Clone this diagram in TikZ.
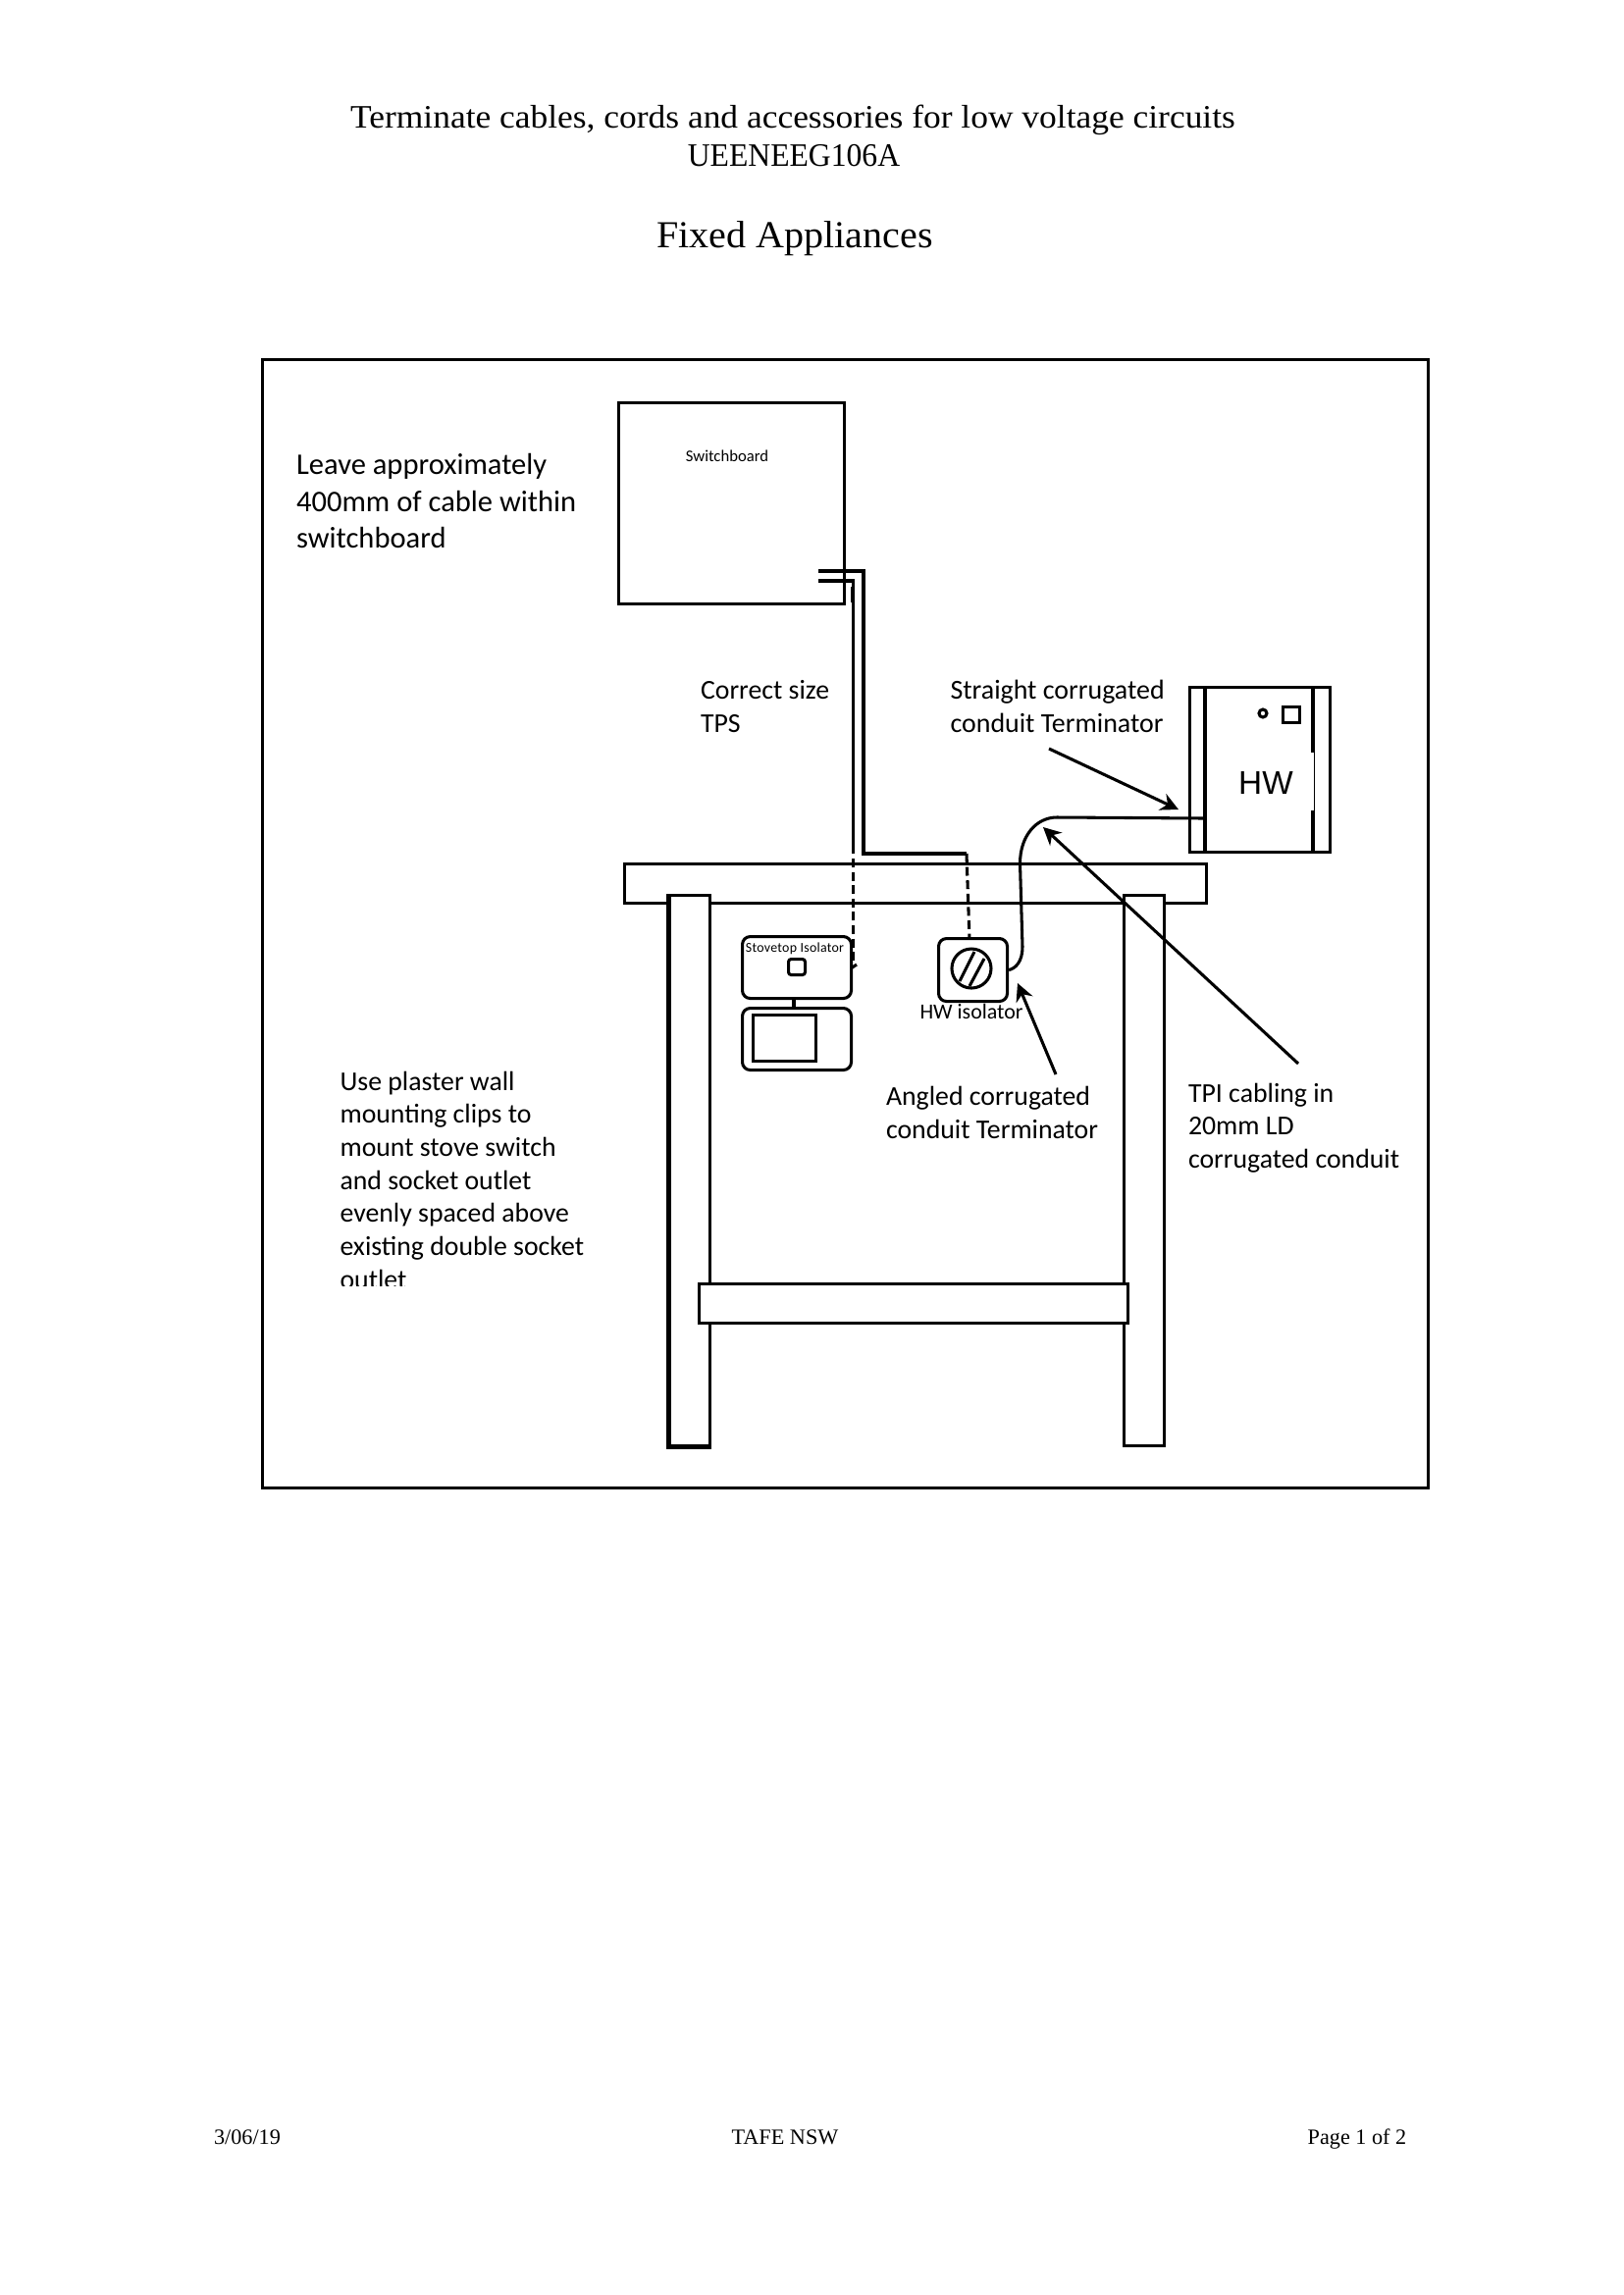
\documentclass[tikz,border=0pt]{standalone}
\usepackage{fontspec}
\setmainfont{Carlito}
\newfontfamily\serifx{Liberation Serif}
\newfontfamily\serifa[FakeStretch=1.063]{Liberation Serif}
\newfontfamily\serifb[FakeStretch=0.95]{Liberation Serif}
\newfontfamily\serifc[FakeStretch=1.03]{Liberation Serif}
\newfontfamily\arialx{Liberation Sans}
\usetikzlibrary{arrows.meta}
\def\px{0.36pt}
\tikzset{
  x=0.36pt,y=-0.36pt,
  ln/.style={line width=1.1pt,draw=black},
  thick line/.style={line width=1.2pt,draw=black},
  boxshape/.style 2 args={ln,fill=white,rectangle,inner sep=0pt,minimum width=#1*\px,minimum height=#2*\px},
  roundbox/.style 2 args={boxshape={#1}{#2},rounded corners=2.9pt},
  lbl/.style={inner sep=0pt,anchor=base west,align=left,text=black},
  midlbl/.style={inner sep=0pt,anchor=base,text=black},
  body/.style={lbl,font=\fontsize{10}{12.1}\selectfont},
  bigbody/.style={lbl,font=\fontsize{11}{13.5}\selectfont},
  foot/.style={midlbl,font=\fontsize{8}{10}\serifx},
  pointer/.style={ln,-{Stealth[length=6.5pt,width=6.5pt]}},
  dashcable/.style={ln,dash pattern=on 3.2pt off 1.7pt},
}
\begin{document}
\begin{tikzpicture}
\useasboundingbox (0,0) rectangle (1654,2339);
\fill[white] (0,0) rectangle (1654,2339);

% headings
\node[midlbl,font=\fontsize{12}{14}\serifa] (t1) at (808,130) {Terminate cables, cords and accessories for low voltage circuits};
\node[midlbl,font=\fontsize{12}{14}\serifb] (t2) at (809,169.5) {UEENEEG106A};
\node[midlbl,font=\fontsize{14}{16}\serifc] (t3) at (810,252) {Fixed Appliances};

% frame
\node[boxshape={1188}{1150},thick line,anchor=north west] (frame) at (266,365) {};

% switchboard
\node[boxshape={230.5}{205},anchor=north west] (sb) at (628.5,409) {};
\node[midlbl,font=\fontsize{6}{7}\selectfont] (sbl) at (741,470) {Switchboard};

% table
\node[boxshape={593}{40},anchor=north west] (top) at (634.5,879) {};
\node[boxshape={41}{561},anchor=north west] (legL) at (681,911) {};
\draw[line width=1.2pt] (legL.north west) -- (legL.south west) -- (legL.south east);
\node[boxshape={41}{561},anchor=north west] (legR) at (1143.5,911) {};
\node[boxshape={437}{40},anchor=north west] (rail) at (711,1307) {};

% TPS cables
\coordinate (c1s) at (834,582);
\coordinate (c1c) at (880,582);
\coordinate (c1d) at (880,870);
\coordinate (c1e) at (985,870);
\coordinate (c2s) at (834,592);
\coordinate (c2c) at (869.5,592);
\coordinate (c2d) at (869.5,870);
\coordinate (c2e) at (869.5,875);
\coordinate (c2f) at (869.5,983);
\coordinate (c2g) at (867,987);
\coordinate (c2h) at (873,983);
\coordinate (c1f) at (988,957);
\draw[ln] (c1s) -- (c1c) -- (c1d) -- (c1e);
\draw[ln] (c2s) -- (c2c) -- (c2d);
\draw[ln] (868.5,598) -- (868.5,614);
\draw[dashcable] (c2e) -- (c2f);
\draw[ln] (c2g) -- (c2h);
\draw[dashcable] (c1e) -- (c1f);

% stovetop isolator and socket
\node[roundbox={111}{63},anchor=north west] (stove) at (755,953) {};
\node[midlbl,font=\fontsize{5}{7}\selectfont\addfontfeatures{LetterSpace=2}] (stovel) at (810,970) {Stovetop Isolator};
\node[roundbox={17}{16},rounded corners=1pt,anchor=north west] (sw) at (802,976) {};
\node[roundbox={111}{63},anchor=north west] (sock) at (755,1026) {};
\node[boxshape={64}{47},anchor=north west] (sockin) at (766,1033) {};
\draw[ln] (809,1016) -- (809,1026);

% HW isolator
\node[roundbox={70}{64},anchor=north west] (iso) at (955,955) {};
\node[circle,ln,fill=white,minimum size=40*\px,inner sep=0pt] (dial) at (990,987) {};
\coordinate (s1a) at (978,1000); \coordinate (s1b) at (993,970);
\coordinate (s2a) at (988,1005); \coordinate (s2b) at (1003,977);
\draw[ln] (s1a) -- (s1b);
\draw[ln] (s2a) -- (s2b);
\node[lbl,font=\fontsize{7.9}{10}\selectfont] (isol) at (937,1038) {HW isolator};

% HW tank
\node[boxshape={143}{168},anchor=north west] (hw) at (1211,699) {};
\draw[ln] (1228,699) -- (1228,867);
\draw[ln] (1338,699) -- (1338,767);
\draw[line width=0.3pt] (1339,767) -- (1339,826);
\draw[ln] (1338,826) -- (1338,867);
\node[circle,ln,minimum size=8*\px,inner sep=0pt] (dot) at (1287,727) {};
\node[boxshape={17}{16},anchor=north west] (lamp) at (1306,719) {};
\node[midlbl,font=\fontsize{12}{13}\arialx] (hwl) at (1290,809) {HW};

% conduit
\coordinate (cdt) at (1228,834);
\draw[ln] (iso.east) .. controls (1035,987) and (1042,980) .. (1042,965) -- (1039.5,880) .. controls (1039.5,852) and (1056,833) .. (1077,833) -- (cdt);

% pointers
\coordinate (a1s) at (1069,763); \coordinate (a1e) at (1201,825);
\coordinate (a2s) at (1076,1095); \coordinate (a2e) at (1037,1002);
\coordinate (a3s) at (1323,1084); \coordinate (a3e) at (1063,843);
\draw[pointer] (a1s) -- (a1e);
\draw[pointer] (a2s) -- (a2e);
\draw[pointer] (a3s) -- (a3e);

% notes
\node[bigbody] (n1) at (301.5,558.5) {Leave approximately\\400mm of cable within\\switchboard};
\node[body] (n2) at (713.5,746) {Correct size\\TPS};
\node[body,font=\fontsize{10.05}{12.1}\selectfont] (n3) at (968,746) {Straight corrugated\\conduit Terminator};
\node[body] (n4) at (902.5,1160.5) {Angled corrugated\\conduit Terminator};
\node[body] (n5) at (1210.5,1190.5) {TPI cabling in\\20mm LD\\corrugated conduit};
\begin{scope}
\clip (300,1060) rectangle (640,1310);
\node[body] (n6) at (346,1313) {Use plaster wall\\mounting clips to\\mount stove switch\\and socket outlet\\evenly spaced above\\existing double socket\\outlet};
\end{scope}

% footer
\node[foot] (f1) at (252,2185) {3/06/19};
\node[foot] (f2) at (800,2185) {TAFE NSW};
\node[foot] (f3) at (1383,2185) {Page 1 of 2};
\end{tikzpicture}
\end{document}
